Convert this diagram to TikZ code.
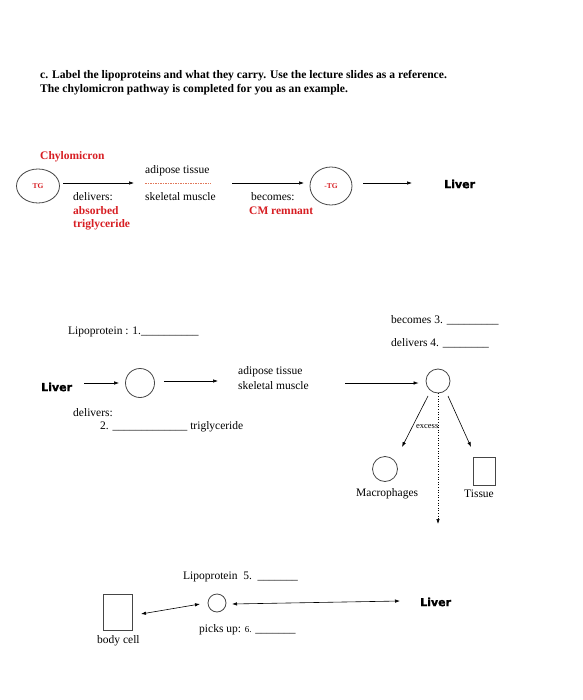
\documentclass[tikz,border=0pt]{standalone}
\usepackage{fontspec}
\setmainfont{Liberation Serif}
\newfontfamily\heavyfont[FakeBold=1.6]{DejaVu Sans Bold}
\usetikzlibrary{arrows.meta,shapes.geometric}
\definecolor{redtxt}{RGB}{215,30,35}
\definecolor{linegray}{RGB}{70,70,70}
\definecolor{dashred}{RGB}{225,120,90}
\begin{document}
\begin{tikzpicture}[x=1pt,y=-1pt,
 txt/.style={inner sep=0pt, anchor=west, font=\fontsize{11.5}{13}\selectfont},
 redb/.style={inner sep=0pt, anchor=west, text=redtxt, font=\fontsize{11.5}{13}\selectfont\bfseries},
 liver/.style={inner sep=0pt, anchor=west, font=\heavyfont\fontsize{11}{12}\selectfont},
 arr/.style={-{Latex[length=5pt,width=3.5pt]}, line width=0.6pt},
 dbl/.style={{Latex[length=5pt,width=3.5pt]}-{Latex[length=5pt,width=3.5pt]}, line width=0.6pt},
 circ/.style={draw=linegray, line width=0.8pt, circle, inner sep=0pt},
 box/.style={draw=linegray, line width=0.8pt, rectangle, inner sep=0pt},
]
\useasboundingbox (0,0) rectangle (582,700);

% title
\node[anchor=west, inner sep=0pt, align=left, font=\fontsize{11.6}{14}\selectfont\bfseries] (title) at (40,83)
 {c. Label the lipoproteins and what they carry. Use the lecture slides as a reference.\\
  The chylomicron pathway is completed for you as an example.};

% ---------- chylomicron row ----------
\node[redb] (chylo) at (40,157) {Chylomicron};
\node[draw=linegray, line width=0.8pt, ellipse, minimum width=43pt, minimum height=34pt, inner sep=0pt,
      text=redtxt, font=\fontsize{7.5}{9}\selectfont\bfseries] (tg) at (38,186) {TG};
\node[txt] (adip1) at (145,171) {adipose tissue};
\node[txt] (skel1) at (145,197) {skeletal muscle};
\coordinate (dash1s) at (145,183);
\coordinate (dash1e) at (211,183);
\draw[dashred, line width=0.6pt, dash pattern=on 1.5pt off 1pt] (dash1s) -- (dash1e);
\node[txt] (deliv1) at (73,197) {delivers:};
\node[redb] (absorbed) at (73,211) {absorbed};
\node[redb] (trig1) at (73,225) {triglyceride};
\node[txt] (becomes1) at (251,197) {becomes:};
\node[redb] (cmrem) at (249,211) {CM remnant};
\node[draw=linegray, line width=0.8pt, ellipse, minimum width=42pt, minimum height=38pt, inner sep=0pt,
      text=redtxt, font=\fontsize{7.5}{9}\selectfont\bfseries] (mtg) at (331,186) {-TG};
\node[liver] (liver1) at (444,184) {Liver};
\coordinate (a1s) at (63,183);
\coordinate (a1e) at (134,183);
\coordinate (a2s) at (232,183);
\coordinate (a2e) at (304,183);
\coordinate (a3s) at (363,183);
\coordinate (a3e) at (412,183);
\draw[arr] (a1s) -- (a1e);
\draw[arr] (a2s) -- (a2e);
\draw[arr] (a3s) -- (a3e);

% ---------- second lipoprotein ----------
\node[txt] (lp1) at (68,332) {Lipoprotein : 1.\_\_\_\_\_\_\_\_\_\_};
\node[txt] (bec3) at (391,320) {becomes 3. \_\_\_\_\_\_\_\_\_};
\node[txt] (del4) at (391,343) {delivers 4. \_\_\_\_\_\_\_\_};
\node[liver] (liver2) at (41,387) {Liver};
\node[circ, minimum size=29pt] (c2) at (140,383) {};
\node[txt] (adip2) at (238,372) {adipose tissue};
\node[txt] (skel2) at (238,386) {skeletal muscle};
\node[circ, minimum size=24pt] (c3) at (438,381) {};
\node[txt] (deliv2) at (73,413) {delivers:};
\node[txt] (two) at (100,427) {2. \_\_\_\_\_\_\_\_\_\_\_\_\_ triglyceride};
\coordinate (b1s) at (84,383);
\draw[arr] (b1s) -- ([xshift=-6pt]c2.west);
\coordinate (b2e) at (218,381);
\draw[arr] ([xshift=9pt]c2.east |- 0,381) -- (b2e);
\coordinate (b3s) at (345,383);
\draw[arr] (b3s) -- ([xshift=-7pt]c3.west |- 0,383);

% branches
\node[circ, minimum size=25pt] (macro) at (385,469) {};
\node[txt] (macrot) at (356,494) {Macrophages};
\node[box, minimum width=22pt, minimum height=28pt] (tissue) at (484,471) {};
\node[txt] (tissuet) at (464,494) {Tissue};
\coordinate (exend) at (438,524);
\draw[arr] ([xshift=-10pt,yshift=-15pt]c3.center) -- (402,447);
\draw[arr] ([xshift=10pt,yshift=-15pt]c3.center) -- (471,447);
\draw[line width=0.6pt, dotted, -{Latex[length=5pt,width=3.5pt]}] (c3.south) -- (exend);
\node[inner sep=0pt, anchor=east, font=\fontsize{8.5}{9}\selectfont] (excess) at (438.5,427) {excess};

% ---------- third lipoprotein ----------
\node[txt] (lp5) at (183,577) {Lipoprotein\ \ 5.\ \ \_\_\_\_\_\_\_};
\node[box, minimum width=29pt, minimum height=36pt] (body) at (117.5,612) {};
\node[txt] (bodyt) at (97,641) {body cell};
\node[circ, minimum size=18pt] (c5) at (217,603) {};
\node[liver] (liver3) at (420,602) {Liver};
\node[txt] (picks) at (199,630) {picks up: {\fontsize{9}{11}\selectfont 6.} \_\_\_\_\_\_\_};
\coordinate (d1s) at (141,614);
\coordinate (d1e) at (200,604);
\draw[dbl] (d1s) -- (d1e);
\coordinate (d2s) at (232,604);
\coordinate (d2e) at (400,601);
\draw[dbl] (d2s) -- (d2e);
\end{tikzpicture}
\end{document}
